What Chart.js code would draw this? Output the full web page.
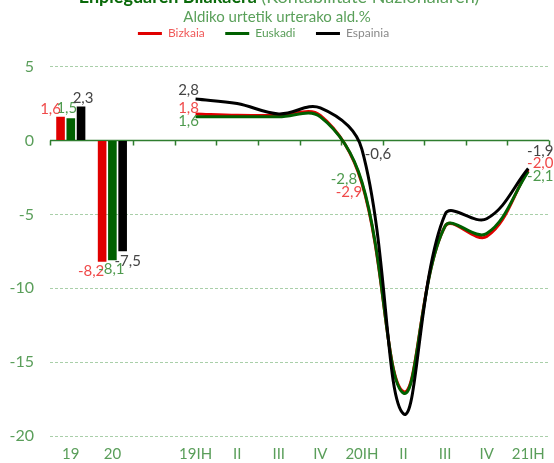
<!DOCTYPE html>
<html>
<head>
<meta charset="utf-8">
<script src="https://cdn.jsdelivr.net/npm/chart.js@4.4.1/dist/chart.umd.min.js"></script>
<style>
  html, body { margin: 0; padding: 0; background: #fff; overflow: hidden; }
  #wrap { position: absolute; left: 0; top: -14px; width: 554px; height: 486px; }
</style>
</head>
<body>
<div id="wrap"><canvas id="c"></canvas></div>
<script>
const categories = ['19', '20', '', '19IH', 'II', 'III', 'IV', '20IH', 'II', 'III', 'IV', '21IH'];
const seriesNames = ['Bizkaia', 'Euskadi', 'Espainia'];
const annualBizkaia = [1.6, -8.2];
const annualEuskadi = [1.5, -8.1];
const annualEspainia = [2.3, -7.5];
const quarterBizkaia = [1.8, 1.7, 1.7, 1.7, -2.9, -17.0, -5.8, -6.5, -2.0];
const quarterEuskadi = [1.6, 1.6, 1.6, 1.6, -2.8, -17.1, -5.8, -6.3, -2.1];
const quarterEspainia = [2.8, 2.5, 1.8, 2.2, -0.6, -18.5, -5.0, -5.3, -1.9];
const yTicks = [5, 0, -5, -10, -15, -20];

const lineColors = ['#e00000', '#006000', '#000000'];
const labelColors = ['#f04a4a', '#4e9a4e', '#444444'];
const legendTextColors = ['#f05a5a', '#5a9e5a', '#8a8a8a'];
const axisGreen = '#5a9e5a';

const nCat = categories.length;
function barData(arr) { return arr.concat(new Array(nCat - arr.length).fill(null)); }
function lineData(arr) { return new Array(nCat - arr.length).fill(null).concat(arr); }

const annual = [annualBizkaia, annualEuskadi, annualEspainia];
const quarter = [quarterBizkaia, quarterEuskadi, quarterEspainia];

// label offsets (dx, dy) relative to data point, only for labelled points
const barLabelOffsets = [
  [[-10, -8], [-11, 10]],
  [[-4, -10], [-1, 9]],
  [[2, -8], [5, 10]]
];
const lineLabelIdx = [0, 4, 8];
const lineLabelOffsets = [
  [[-7, -6], [-13, 9], [12, -7]],
  [[-7, 4], [-18, -3], [12, 5]],
  [[-7, -9], [16, 5], [12, -17]]
];

const datasets = [];
for (let s = 0; s < 3; s++) {
  datasets.push({
    type: 'bar', label: seriesNames[s], data: barData(annual[s]), xAxisID: 'x',
    backgroundColor: lineColors[s], borderWidth: 0,
    categoryPercentage: 0.74, barPercentage: 0.84, order: 10 + s
  });
}
const lineOrder = [2, 1, 0];
for (let s = 0; s < 3; s++) {
  datasets.push({
    type: 'line', label: seriesNames[s], data: lineData(quarter[s]), xAxisID: 'x',
    borderColor: lineColors[s], backgroundColor: lineColors[s], borderWidth: 3,
    pointRadius: 0, tension: 0.38, spanGaps: false, fill: false, order: lineOrder[s]
  });
}

function fmt(v) { return v.toFixed(1).replace('.', ','); }

const decorPlugin = {
  id: 'decor',
  beforeDatasetsDraw(chart) {
    const ctx = chart.ctx, x = chart.scales.x, y = chart.scales.y, ca = chart.chartArea;
    const y0 = y.getPixelForValue(0);
    const w = x.getPixelForValue(1) - x.getPixelForValue(0);
    ctx.save();
    ctx.strokeStyle = '#2e7d2e';
    ctx.lineWidth = 1.5;
    ctx.beginPath();
    ctx.moveTo(ca.left, y0); ctx.lineTo(ca.right, y0);
    for (let i = 0; i <= nCat; i++) {
      if (i === 1) continue;
      const px = Math.round(x.getPixelForValue(0) - w / 2 + i * w) + 0.5;
      ctx.moveTo(px, y0); ctx.lineTo(px, y0 + 5);
    }
    ctx.stroke();
    ctx.restore();
  },
  afterDatasetsDraw(chart) {
    const ctx = chart.ctx;
    ctx.save();
    ctx.font = '15px Lato';
    ctx.textAlign = 'center';
    ctx.textBaseline = 'middle';
    for (let s = 0; s < 3; s++) {
      const bm = chart.getDatasetMeta(s);
      annual[s].forEach((v, i) => {
        const el = bm.data[i];
        const off = barLabelOffsets[s][i];
        ctx.fillStyle = labelColors[s];
        ctx.fillText(fmt(v), el.x + off[0], el.y + off[1]);
      });
      const lm = chart.getDatasetMeta(3 + s);
      lineLabelIdx.forEach((qi, k) => {
        const idx = nCat - quarter[s].length + qi;
        const el = lm.data[idx];
        const off = lineLabelOffsets[s][k];
        ctx.fillStyle = labelColors[s];
        ctx.fillText(fmt(quarter[s][qi]), el.x + off[0], el.y + off[1]);
      });
    }
    ctx.restore();
  },
  afterDraw(chart) {
    const tb = chart.titleBlock;
    if (!tb) return;
    const ctx = chart.ctx;
    ctx.save();
    const p1 = 'Enpleguaren Bilakaera';
    const p2 = ' (Kontabilitate Nazionalaren)';
    ctx.textBaseline = 'middle';
    ctx.font = 'bold 18px Lato';
    const w1 = ctx.measureText(p1).width;
    ctx.font = '18px Lato';
    const w2 = ctx.measureText(p2).width;
    const cx = chart.width / 2 + 2;
    const cy = tb.top + tb.height / 2;
    let sx = cx - (w1 + w2) / 2;
    ctx.textAlign = 'left';
    ctx.font = 'bold 18px Lato';
    ctx.fillStyle = '#0a6a0a';
    ctx.fillText(p1, sx, cy);
    ctx.font = '18px Lato';
    ctx.fillStyle = '#5aa05a';
    ctx.fillText(p2, sx + w1, cy);
    ctx.restore();
  }
};

const legendGaps = ['\u2003\u2003\u2009', '\u2003\u2003\u2009', '\u2003\u2003\u2003'];

new Chart(document.getElementById('c'), {
  data: { labels: categories, datasets: datasets },
  options: {
    responsive: true, maintainAspectRatio: false, animation: false,
    layout: { padding: { left: 0, right: 0, top: 0, bottom: 0 } },
    plugins: {
      title: {
        display: true, text: 'Enpleguaren Bilakaera (Kontabilitate Nazionalaren)',
        color: 'rgba(0,0,0,0)', font: { family: 'Lato', size: 18, weight: 'bold' },
        padding: { top: 0, bottom: 0 }
      },
      subtitle: {
        display: true, text: 'Aldiko urtetik urterako ald.%',
        color: '#5aa05a', font: { family: 'Lato', size: 15 },
        padding: { top: 1, bottom: 0 }
      },
      legend: {
        display: true, position: 'top',
        labels: {
          boxWidth: 24, boxHeight: 3, padding: 1,
          font: { family: 'Lato', size: 12 },
          generateLabels(chart) {
            return seriesNames.map((n, i) => ({
              text: n + legendGaps[i], fillStyle: lineColors[i], strokeStyle: lineColors[i],
              lineWidth: 0, fontColor: legendTextColors[i], datasetIndex: 3 + i, hidden: false
            }));
          }
        },
        onClick() {}
      },
      tooltip: { enabled: false }
    },
    scales: {
      x: {
        type: 'category', position: 'bottom',
        grid: { display: false, drawTicks: false },
        border: { display: false },
        ticks: { color: axisGreen, font: { family: 'Lato', size: 15 }, padding: 9, maxRotation: 0, autoSkip: false }
      },
      xTopSpace: {
        type: 'category', position: 'top', display: true,
        grid: { display: false, drawTicks: false },
        border: { display: false },
        ticks: { display: false },
        afterFit(scale) { scale.height = 17; }
      },
      y: {
        min: -20, max: 5,
        afterBuildTicks(scale) { scale.ticks = yTicks.map(v => ({ value: v })); },
        afterFit(scale) { scale.width = 50; },
        grid: {
          color: (c) => (c.tick && c.tick.value === 0) ? 'rgba(0,0,0,0)' : '#a9cfa9',
          lineWidth: 1, drawTicks: false
        },
        border: { display: false, dash: [3, 2] },
        ticks: {
          color: axisGreen, font: { family: 'Lato', size: 16 }, padding: 16,
          callback: (v) => String(v)
        }
      }
    }
  },
  plugins: [decorPlugin]
});
</script>
</body>
</html>
